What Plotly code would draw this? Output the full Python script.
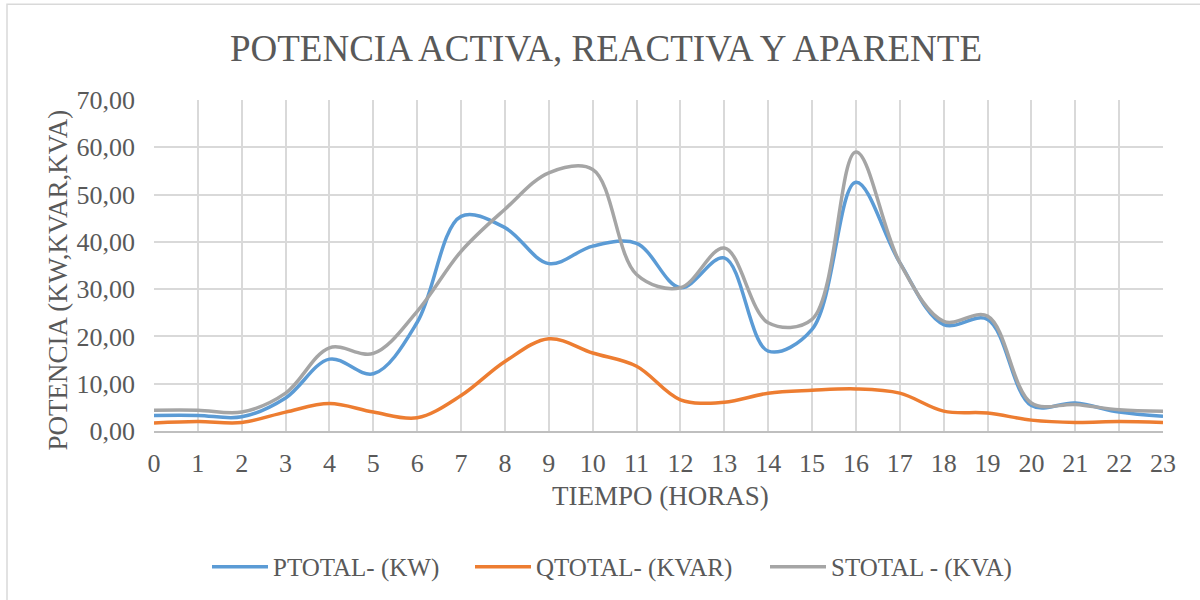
import plotly.graph_objects as go

hours = list(range(24))
p_total = [3.3, 3.3, 3.0, 7.0, 15.2, 12.1, 23.0, 45.4, 43.0, 35.4, 39.1, 39.7,
           30.3, 36.6, 16.9, 21.5, 52.6, 35.6, 22.5, 23.6, 5.4, 5.9, 4.0, 3.1]
q_total = [1.7, 2.0, 1.8, 4.0, 5.8, 4.0, 2.8, 7.5, 14.7, 19.5, 16.5, 13.7,
           6.6, 6.1, 8.0, 8.6, 8.9, 8.0, 4.2, 3.8, 2.3, 1.8, 2.0, 1.8]
s_total = [4.4, 4.4, 4.0, 8.0, 17.6, 16.4, 25.3, 38.0, 46.9, 54.6, 55.3, 33.1,
           30.3, 38.7, 22.9, 23.6, 59.0, 35.6, 23.2, 24.3, 5.9, 5.6, 4.5, 4.2]
names = ["PTOTAL- (KW)", "QTOTAL- (KVAR)", "STOTAL - (KVA)"]
colors = ["#5B9BD5", "#ED7D31", "#A5A5A5"]
legend_ids = ["legend", "legend2", "legend3"]
legend_px = [207, 470, 765]

FONT = "'Times New Roman', 'Liberation Serif', serif"
TXT = "#595959"

fig = go.Figure()
for name, vals, col, lid in zip(names, [p_total, q_total, s_total], colors, legend_ids):
    fig.add_trace(go.Scatter(x=hours, y=vals, name=name, mode="lines", legend=lid,
                             line=dict(color=col, width=3.5, shape="spline", smoothing=1)))

legend_common = dict(orientation="h", xanchor="left", y=-0.4066, yanchor="middle",
                     font=dict(family=FONT, size=25, color=TXT), itemwidth=56,
                     bgcolor="rgba(0,0,0,0)")

fig.update_layout(
    width=1200, height=600,
    paper_bgcolor="white", plot_bgcolor="white",
    margin=dict(l=154, r=37, t=100, b=168),
    separators=", ",
    font=dict(family=FONT, color=TXT, size=24),
    title=dict(text="POTENCIA ACTIVA, REACTIVA Y APARENTE", x=0.505, xanchor="center",
               y=1 - 48 / 600, yanchor="middle", yref="container",
               font=dict(family=FONT, size=37, color=TXT)),
    legend=dict(x=(legend_px[0] - 154) / 1009, **legend_common),
    legend2=dict(x=(legend_px[1] - 154) / 1009, **legend_common),
    legend3=dict(x=(legend_px[2] - 154) / 1009, **legend_common),
    xaxis=dict(range=[0, 23], tickmode="linear", tick0=0, dtick=1, automargin=False,
               showgrid=True, gridcolor="#D9D9D9", gridwidth=1.5,
               showline=True, linecolor="#BFBFBF", linewidth=1.5,
               ticks="outside", ticklen=8, tickcolor="rgba(0,0,0,0)", zeroline=False,
               tickfont=dict(family=FONT, size=26, color=TXT)),
    yaxis=dict(range=[0, 70], tickmode="linear", tick0=0, dtick=10, tickformat=".2f",
               automargin=False,
               showgrid=True, gridcolor="#D9D9D9", gridwidth=1.5,
               zeroline=False, ticks="", ticklabelstandoff=18,
               tickfont=dict(family=FONT, size=26, color=TXT)),
    showlegend=True,
)

fig.add_annotation(text="TIEMPO (HORAS)", xref="paper", yref="paper",
                   x=(660 - 154) / 1009, y=(432 - 497) / 332, xanchor="center", yanchor="middle",
                   showarrow=False, font=dict(family=FONT, size=27, color=TXT))
fig.add_annotation(text="POTENCIA (KW,KVAR,KVA)", xref="paper", yref="paper", textangle=-90,
                   x=(58 - 154) / 1009, y=(432 - 281) / 332, xanchor="center", yanchor="middle",
                   showarrow=False, font=dict(family=FONT, size=27, color=TXT))

fig.add_shape(type="rect", xref="paper", yref="paper",
              x0=(7 - 154) / 1009, x1=(1203 - 154) / 1009,
              y0=(432 - 603) / 332, y1=(432 - 4) / 332,
              line=dict(color="#D9D9D9", width=1.5), fillcolor="rgba(0,0,0,0)", layer="below")

fig.write_html("out.html", config={"displayModeBar": False},
               post_script="document.body.style.margin='0';document.body.style.padding='0';")
